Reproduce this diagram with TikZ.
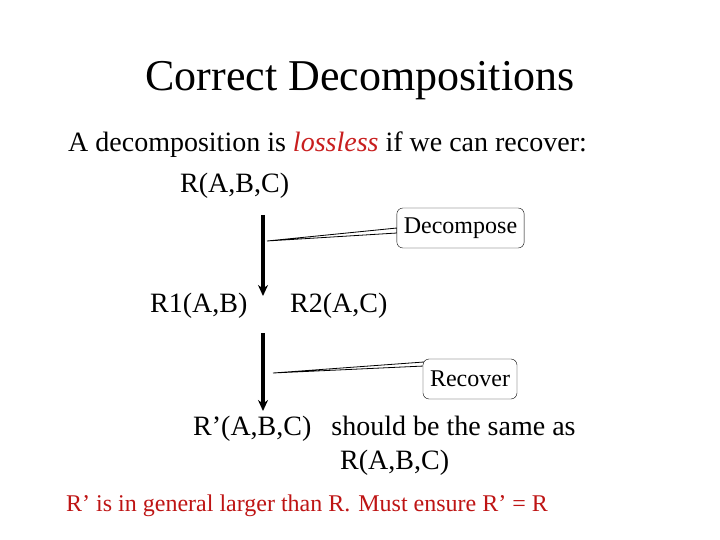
\documentclass[tikz,border=0pt]{standalone}
\usepackage{fontspec}
\setmainfont{Liberation Serif}
\usetikzlibrary{arrows.meta}
\definecolor{lossred}{RGB}{200,30,30}
\definecolor{darkred}{RGB}{190,20,20}
\begin{document}
\begin{tikzpicture}[x=1pt,y=-1pt,
  txt/.style={inner sep=0pt,anchor=base west,font=\fontsize{28}{32}\selectfont},
  callbox/.style={draw,rounded corners=6pt,fill=white,inner xsep=7pt,inner ysep=5pt,font=\fontsize{24}{28}\selectfont,minimum height=40pt},
  bigarrow/.style={line width=4pt,-{Stealth[length=11pt,width=10pt]}},
  wedge/.style={draw,fill=white,line width=0.8pt}]
\useasboundingbox (0,0) rectangle (720,540);
\node[inner sep=0pt,anchor=base,font=\fontsize{44}{50}\selectfont] (title) at (360,91) {Correct Decompositions};
\node[txt] (l1) at (68,152) {A decomposition is \textit{\textcolor{lossred}{lossless}} if we can recover:};
\node[txt] (r) at (180,193) {R(A,B,C)};
\node[txt] (r1) at (150,312) {R1(A,B)};
\node[txt] (r2) at (290,312) {R2(A,C)};
\node[txt] (rp) at (193,435) {R’(A,B,C)\hspace{20pt}should be the same as};
\node[txt] (r3) at (340,469) {R(A,B,C)};
\node[txt,text=darkred,font=\fontsize{24}{28}\selectfont] (note) at (66,511) {R’ is in general larger than R.\hspace{8pt}Must ensure R’ = R};
\coordinate (a1s) at (263,215);
\coordinate (a1e) at (263,296);
\coordinate (a2s) at (263,333);
\coordinate (a2e) at (263,411);
\draw[bigarrow] (a1s) -- (a1e);
\draw[bigarrow] (a2s) -- (a2e);
\coordinate (w1) at (267,241);
\coordinate (w2) at (273,373);
\draw[wedge] (w1) -- (397,228) -- (397,233) -- cycle;
\draw[wedge] (w2) -- (424,362) -- (424,366) -- cycle;
\node[callbox] (dec) at (460.5,228) {Decompose};
\node[callbox] (rec) at (470,379) {Recover};
\end{tikzpicture}
\end{document}
